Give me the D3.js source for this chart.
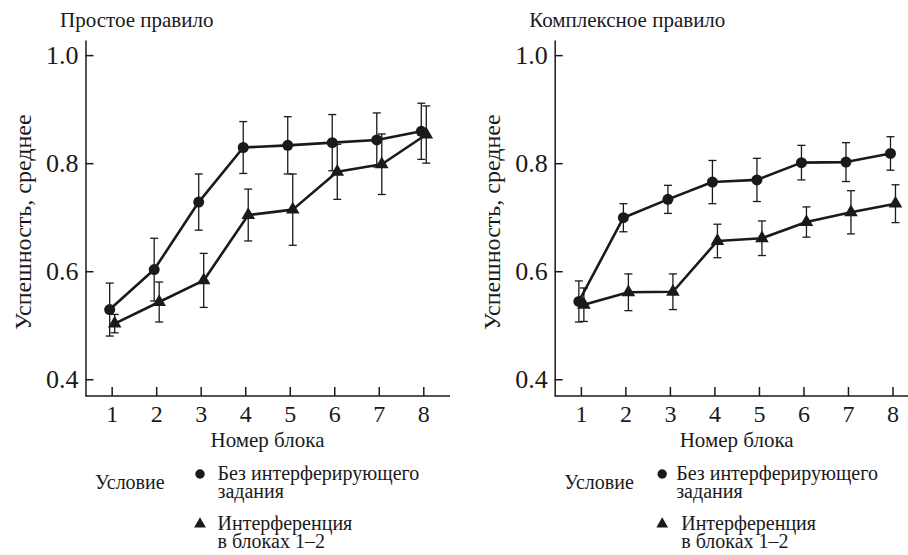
<!DOCTYPE html>
<html>
<head>
<meta charset="utf-8">
<script src="https://cdn.jsdelivr.net/npm/d3@7"></script>
<style>
  body { margin: 0; background: #fff; }
</style>
</head>
<body>
<svg class="fig"></svg>
<script>
const width = 908;
const height = 555;

const blocks = [1, 2, 3, 4, 5, 6, 7, 8];
const yTicks = [0.4, 0.6, 0.8, 1.0];

// Простое правило
const simpleNoInt = [0.529, 0.603, 0.728, 0.829, 0.833, 0.838, 0.843, 0.859];
const simpleNoIntErr = [0.049, 0.058, 0.052, 0.048, 0.053, 0.052, 0.050, 0.052];
const simpleInt = [0.503, 0.543, 0.583, 0.704, 0.714, 0.784, 0.798, 0.853];
const simpleIntErr = [0.017, 0.037, 0.050, 0.048, 0.066, 0.051, 0.056, 0.053];

// Комплексное правило
const complexNoInt = [0.544, 0.699, 0.733, 0.765, 0.769, 0.801, 0.802, 0.818];
const complexNoIntErr = [0.038, 0.026, 0.026, 0.040, 0.040, 0.032, 0.036, 0.031];
const complexInt = [0.538, 0.561, 0.562, 0.656, 0.661, 0.691, 0.709, 0.725];
const complexIntErr = [0.031, 0.034, 0.033, 0.031, 0.032, 0.028, 0.040, 0.035];

const legendLabels = [["Без интерферирующего", "задания"], ["Интерференция", "в блоках 1–2"]];

const ink = "#1a1a1a";
const serif = '"Liberation Serif"';

const panels = [
  { title: "Простое правило", left: 85.5, axisEnd: 364.5, noInt: simpleNoInt, noIntErr: simpleNoIntErr,
    int: simpleInt, intErr: simpleIntErr, leg: { label: 9.5, mark: 114.5, text: [132, 132] } },
  { title: "Комплексное правило", left: 554.7, axisEnd: 360, noInt: complexNoInt, noIntErr: complexNoIntErr,
    int: complexInt, intErr: complexIntErr, leg: { label: 9.5, mark: 107.5, text: [121.5, 126.5] } }
];

const svg = d3.select("svg.fig")
  .attr("width", width)
  .attr("height", height)
  .style("display", "block")
  .style("font-family", serif);

const y = d3.scaleLinear().domain([0.369, 1.028]).range([396, 40]);
const x = d3.scaleLinear().domain([0.412, 8.6]).range([0, 364.5]);

const circleOff = -2;
const triOff = 3;

function setFont(sel, size) {
  return sel.style("font-family", serif).attr("font-size", size).attr("fill", ink);
}

panels.forEach(p => {
  const g = svg.append("g").attr("transform", `translate(${p.left},0)`);

  g.append("text")
    .attr("x", -25.5)
    .attr("y", 27)
    .call(setFont, 21)
    .text(p.title);

  // y axis
  const yAxis = g.append("g")
    .call(d3.axisLeft(y).tickValues(yTicks).tickSizeInner(-8).tickSizeOuter(0).tickPadding(7)
      .tickFormat(d3.format(".1f")))
    .attr("font-family", null);
  yAxis.select(".domain").attr("stroke", ink).attr("stroke-width", 1.5);
  yAxis.selectAll(".tick line").attr("stroke", ink).attr("stroke-width", 1.5);
  yAxis.selectAll(".tick text").call(setFont, 26);

  // x axis
  const xAxis = g.append("g")
    .attr("transform", "translate(0,396)")
    .call(d3.axisBottom(x).tickValues(blocks).tickSizeInner(-9).tickSizeOuter(0).tickPadding(9))
    .attr("font-family", null);
  xAxis.select(".domain").attr("d", `M0,0H${p.axisEnd}`).attr("stroke", ink).attr("stroke-width", 1.5);
  xAxis.selectAll(".tick line").attr("stroke", ink).attr("stroke-width", 1.5);
  xAxis.selectAll(".tick text").call(setFont, 24);

  g.append("text")
    .attr("x", x(4.5))
    .attr("y", 447)
    .attr("text-anchor", "middle")
    .call(setFont, 21)
    .text("Номер блока");

  g.append("text")
    .attr("transform", `translate(-55,${y(0.7) + 5}) rotate(-90)`)
    .attr("text-anchor", "middle")
    .call(setFont, 24)
    .text("Успешность, среднее");

  const series = [
    { vals: p.noInt, err: p.noIntErr, off: circleOff, shape: "circle" },
    { vals: p.int, err: p.intErr, off: triOff, shape: "triangle" }
  ];

  const line = d3.line();

  series.forEach(s => {
    const pts = blocks.map((b, i) => ({ b, v: s.vals[i], e: s.err[i] }));
    const eb = g.append("g").attr("stroke", ink).attr("stroke-width", 1.3);
    eb.selectAll("line.v").data(pts).join("line")
      .attr("x1", d => x(d.b) + s.off).attr("x2", d => x(d.b) + s.off)
      .attr("y1", d => y(d.v - d.e)).attr("y2", d => y(d.v + d.e));
    eb.selectAll("line.t").data(pts).join("line")
      .attr("x1", d => x(d.b) + s.off - 4).attr("x2", d => x(d.b) + s.off + 4)
      .attr("y1", d => y(d.v + d.e)).attr("y2", d => y(d.v + d.e));
    eb.selectAll("line.bt").data(pts).join("line")
      .attr("x1", d => x(d.b) + s.off - 4).attr("x2", d => x(d.b) + s.off + 4)
      .attr("y1", d => y(d.v - d.e)).attr("y2", d => y(d.v - d.e));

    g.append("path")
      .attr("d", line(pts.map(d => [x(d.b) + s.off, y(d.v)])))
      .attr("fill", "none")
      .attr("stroke", ink)
      .attr("stroke-width", 2.6)
      .attr("stroke-linejoin", "round");

    const sym = d3.symbol().type(s.shape === "circle" ? d3.symbolCircle : d3.symbolTriangle)
      .size(s.shape === "circle" ? 95 : 80);
    g.selectAll(null).data(pts).join("path")
      .attr("transform", d => `translate(${x(d.b) + s.off},${y(d.v)})`)
      .attr("d", sym)
      .attr("fill", ink);
  });

  // legend
  const L = p.leg;
  const lg = g.append("g");
  lg.append("text").attr("x", L.label).attr("y", 489).call(setFont, 20).text("Условие");
  lg.append("path").attr("transform", `translate(${L.mark},474)`).attr("fill", ink)
    .attr("d", d3.symbol().type(d3.symbolCircle).size(70));
  lg.append("path").attr("transform", `translate(${L.mark},524)`).attr("fill", ink)
    .attr("d", d3.symbol().type(d3.symbolTriangle).size(60));
  [0, 1].forEach(k => {
    const baseY = k === 0 ? 480 : 530;
    legendLabels[k].forEach((t, j) => {
      lg.append("text").attr("x", L.text[k]).attr("y", baseY + j * 18).call(setFont, 20).text(t);
    });
  });
});
</script>
</body>
</html>
